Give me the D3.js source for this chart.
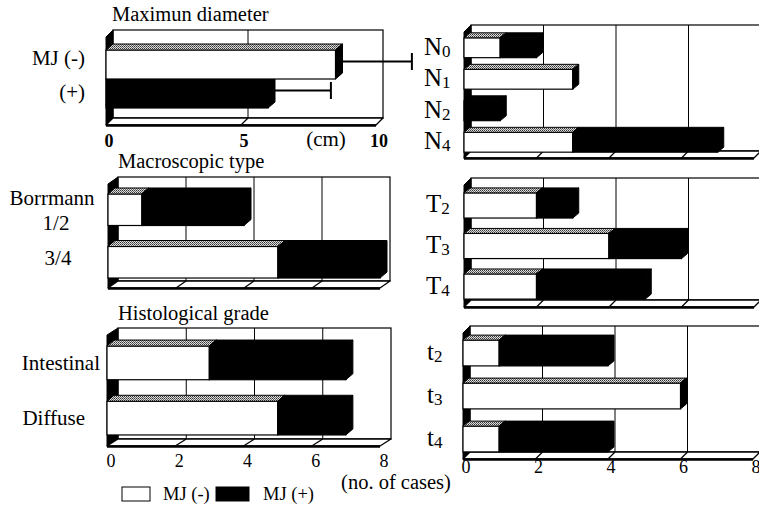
<!DOCTYPE html>
<html><head><meta charset="utf-8">
<script src="https://cdn.jsdelivr.net/npm/d3@7"></script>
<style>
html,body{margin:0;padding:0;background:#fff;}
svg, svg text{font-family:"Liberation Serif","Times New Roman","DejaVu Serif",serif;}
</style></head>
<body><svg id="c" width="759" height="506" font-family="Liberation Serif, Times New Roman, DejaVu Serif, serif"></svg>
<script>
// ---- data ----
const diamCategories = ["MJ (-)", "(+)"];
const diamMean = [8.5, 6.0];
const diamSD = [2.7, 2.2];
const diamTicks = [0, 5, 10];

const macroCategories = ["Borrmann 1/2", "3/4"];
const macroNeg = [1, 5];
const macroPos = [3, 3];

const histCategories = ["Intestinal", "Diffuse"];
const histNeg = [3, 5];
const histPos = [4, 2];

const nodeCategories = ["N0", "N1", "N2", "N4"];
const nodeNeg = [1, 3, 0, 3];
const nodePos = [1, 0, 1, 4];

const tCategories = ["T2", "T3", "T4"];
const tNeg = [2, 4, 2];
const tPos = [1, 2, 3];

const tsCategories = ["t2", "t3", "t4"];
const tsNeg = [1, 6, 1];
const tsPos = [3, 0, 3];

const countTicks = [0, 2, 4, 6, 8];
const seriesNames = ["MJ (-)", "MJ (+)"];

// ---- drawing ----
const FONT = "Liberation Serif, Times New Roman, DejaVu Serif, serif";
const svg = d3.select("#c");
svg.append("rect").attr("width", 759).attr("height", 506).attr("fill", "#fff");

const defs = svg.append("defs");
const pat = defs.append("pattern").attr("id", "hatch").attr("patternUnits", "userSpaceOnUse")
  .attr("width", 2).attr("height", 2);
pat.append("rect").attr("width", 2).attr("height", 2).attr("fill", "#ddd");
pat.append("rect").attr("width", 1).attr("height", 1).attr("fill", "#333");
pat.append("rect").attr("x", 1).attr("y", 1).attr("width", 1).attr("height", 1).attr("fill", "#666");

function txt(g) {
  return g.append("text").attr("font-family", FONT);
}
function poly(g, pts, fill, stroke, sw) {
  return g.append("polygon").attr("points", pts.map(p => p.join(",")).join(" "))
    .attr("fill", fill).attr("stroke", stroke || "none").attr("stroke-width", sw || 0)
    .attr("stroke-linejoin", "round");
}

function panel(cfg) {
  const g = svg.append("g");
  const x = d3.scaleLinear().domain([0, cfg.max]).range([cfg.x0, cfg.x1]);
  const y = d3.scaleBand().domain(cfg.categories).range(cfg.band || [cfg.yTop, cfg.yBot])
    .paddingInner(cfg.pi).paddingOuter(cfg.po);
  const dx = cfg.dx, dy = cfg.dy, bdx = cfg.bdx, bdy = cfg.bdy;
  // back wall
  g.append("rect").attr("x", x(0) + dx).attr("y", cfg.yTop - dy)
    .attr("width", x(cfg.max) - x(0)).attr("height", cfg.yBot - cfg.yTop)
    .attr("fill", "#fff").attr("stroke", "#000").attr("stroke-width", 1.2);
  // gridlines on back wall
  cfg.ticks.filter(t => t > 0 && t < cfg.max).forEach(t => {
    g.append("line").attr("x1", x(t) + dx).attr("x2", x(t) + dx)
      .attr("y1", cfg.yTop - dy).attr("y2", cfg.yBot - dy)
      .attr("stroke", "#000").attr("stroke-width", 1);
  });
  // left side wall
  poly(g, [[x(0), cfg.yTop], [x(0) + dx, cfg.yTop - dy], [x(0) + dx, cfg.yBot - dy], [x(0), cfg.yBot]], "#000", "#000", 1);
  // floor
  poly(g, [[x(0), cfg.yBot], [x(0) + dx, cfg.yBot - dy], [x(cfg.max) + dx, cfg.yBot - dy], [x(cfg.max), cfg.yBot]], "#fff", "#000", 1.3);
  cfg.ticks.filter(t => t > 0 && t < cfg.max).forEach(t => {
    g.append("line").attr("x1", x(t)).attr("y1", cfg.yBot)
      .attr("x2", x(t) + dx).attr("y2", cfg.yBot - dy)
      .attr("stroke", "#000").attr("stroke-width", 1.3);
  });
  g.append("line").attr("x1", x(0)).attr("x2", x(cfg.max)).attr("y1", cfg.yBot + 0.5).attr("y2", cfg.yBot + 0.5)
    .attr("stroke", "#000").attr("stroke-width", 2.5);

  // bars (draw lower categories first)
  const bw = y.bandwidth();
  const cats = cfg.categories.slice().reverse();
  cats.forEach(c => {
    const i = cfg.categories.indexOf(c);
    const segs = cfg.segments(i);
    const yy = y(c);
    segs.forEach(s => {
      if (s.end - s.start <= 0) return;
      const xs = x(s.start), xe = x(s.end);
      const isWhite = s.fill === "#fff";
      g.append("rect").attr("x", xs).attr("y", yy).attr("width", xe - xs).attr("height", bw)
        .attr("fill", s.fill).attr("stroke", "#000").attr("stroke-width", 1.2);
      poly(g, [[xs, yy], [xs + bdx, yy - bdy], [xe + bdx, yy - bdy], [xe, yy]],
        isWhite ? "url(#hatch)" : "#000", "#000", 1);
      poly(g, [[xe, yy], [xe + bdx, yy - bdy], [xe + bdx, yy + bw - bdy], [xe, yy + bw]], "#000", "#000", 1);
    });
    if (cfg.err) {
      const m = cfg.err.mean[i], sd = cfg.err.sd[i];
      const ey = yy + bw / 2 - bdy / 2;
      g.append("line").attr("x1", x(m) + bdx).attr("x2", x(m + sd) + bdx / 2)
        .attr("y1", ey).attr("y2", ey).attr("stroke", "#000").attr("stroke-width", 2);
      g.append("line").attr("x1", x(m + sd) + bdx / 2).attr("x2", x(m + sd) + bdx / 2)
        .attr("y1", ey - 8.5).attr("y2", ey + 8.5).attr("stroke", "#000").attr("stroke-width", 2);
    }
  });

  // category labels
  if (cfg.labels) cfg.labels(g, y, bw);
  // tick labels
  if (cfg.tickY) {
    cfg.ticks.forEach(t => {
      txt(g).attr("x", x(t) + cfg.tickDx).attr("y", cfg.tickY)
        .attr("text-anchor", "middle").attr("font-size", 18)
        .attr("font-weight", cfg.tickBold ? "bold" : "normal").text(t);
    });
  }
  // title
  if (cfg.title) {
    txt(g).attr("x", cfg.title.x).attr("y", cfg.title.y).attr("font-size", 20.5).text(cfg.title.text);
  }
  return {x, y};
}

function stacked(neg, pos) {
  return i => [{start: 0, end: neg[i], fill: "#fff"}, {start: neg[i], end: neg[i] + pos[i], fill: "#000"}];
}

// Left top: Maximum diameter
panel({
  x0: 106, x1: 376, max: 10, yTop: 37, yBot: 125, dx: 7, dy: 7, bdx: 7, bdy: 6,
  band: [50, 108], pi: 0, po: 0, categories: diamCategories,
  ticks: diamTicks, tickY: 147, tickDx: 3, tickBold: true,
  segments: i => [{start: 0, end: diamMean[i], fill: i === 0 ? "#fff" : "#000"}],
  err: {mean: diamMean, sd: diamSD},
  title: {x: 112, y: 21, text: "Maximun diameter"},
  labels: (g, y, bw) => {
    diamCategories.forEach((c, i) => {
      txt(g).attr("x", 85).attr("y", y(c) + bw / 2 + (i === 0 ? 0 : 5)).attr("text-anchor", "end")
        .attr("font-size", 21).text(c);
    });
  }
});
// Left middle: Macroscopic type
panel({
  x0: 108, x1: 380, max: 8, yTop: 184, yBot: 288, dx: 10, dy: 7, bdx: 7, bdy: 6,
  pi: 0.4, po: 0.19, categories: macroCategories, ticks: countTicks,
  segments: stacked(macroNeg, macroPos),
  title: {x: 118, y: 168, text: "Macroscopic type"},
  labels: (g, y, bw) => {
    const c0 = macroCategories[0].split(" ");
    const yc = y(macroCategories[0]) + bw / 2;
    txt(g).attr("x", 52).attr("y", yc - 12 + 7).attr("text-anchor", "middle").attr("font-size", 21).text(c0[0]);
    txt(g).attr("x", 56).attr("y", yc + 13 + 7).attr("text-anchor", "middle").attr("font-size", 21).text(c0[1]);
    txt(g).attr("x", 58).attr("y", y(macroCategories[1]) + bw / 2 - 4 + 7).attr("text-anchor", "middle").attr("font-size", 21).text(macroCategories[1]);
  }
});
// Left bottom: Histological grade
panel({
  x0: 107, x1: 380, max: 8, yTop: 335, yBot: 446, dx: 11, dy: 7, bdx: 7, bdy: 6,
  pi: 0.39, po: 0.2, categories: histCategories, ticks: countTicks,
  tickY: 467, tickDx: 4,
  segments: stacked(histNeg, histPos),
  title: {x: 118, y: 320, text: "Histological grade"},
  labels: (g, y, bw) => {
    histCategories.forEach((c, i) => {
      txt(g).attr("x", i === 0 ? 100 : 85).attr("y", y(c) + bw / 2 + 7).attr("text-anchor", "end")
        .attr("font-size", 21).text(c);
    });
  }
});

function subLabels(cats, xPos) {
  return (g, y, bw) => {
    cats.forEach(c => {
      const t = txt(g).attr("x", xPos).attr("y", y(c) + bw / 2 + 7).attr("font-size", 25);
      t.append("tspan").text(c[0]);
      t.append("tspan").attr("font-size", 17).attr("dy", 2).text(c.slice(1));
    });
  };
}
// Right top: N
panel({
  x0: 464, x1: 754, max: 8, yTop: 32, yBot: 158, dx: 7, dy: 7, bdx: 6, bdy: 5,
  pi: 0.37, po: 0.185, categories: nodeCategories, ticks: countTicks,
  segments: stacked(nodeNeg, nodePos),
  labels: subLabels(nodeCategories, 424)
});
// Right middle: T
panel({
  x0: 464, x1: 754, max: 8, yTop: 185, yBot: 307, dx: 7, dy: 7, bdx: 6, bdy: 5,
  pi: 0.38, po: 0.195, categories: tCategories, ticks: countTicks,
  segments: stacked(tNeg, tPos),
  labels: subLabels(tCategories, 426)
});
// Right bottom: t
panel({
  x0: 463, x1: 753, max: 8, yTop: 333, yBot: 459, dx: 7, dy: 7, bdx: 6, bdy: 5,
  pi: 0.4, po: 0.165, categories: tsCategories, ticks: countTicks,
  tickY: 473, tickDx: 3,
  segments: stacked(tsNeg, tsPos),
  labels: subLabels(tsCategories, 427)
});

// unit labels
txt(svg).attr("x", 326).attr("y", 146).attr("text-anchor", "middle").attr("font-size", 21).text("(cm)");
txt(svg).attr("x", 396).attr("y", 489).attr("text-anchor", "middle").attr("font-size", 20.5).text("(no. of cases)");

// legend
const leg = svg.append("g");
const legX = [122, 216];
seriesNames.forEach((s, i) => {
  leg.append("rect").attr("x", legX[i]).attr("y", 487).attr("width", i === 0 ? 28 : 33).attr("height", 14)
    .attr("fill", i === 0 ? "#fff" : "#000").attr("stroke", "#000").attr("stroke-width", 1);
  txt(leg).attr("x", legX[i] + (i === 0 ? 41 : 47)).attr("y", 500).attr("font-size", 18.5).text(s);
});
</script></body></html>
